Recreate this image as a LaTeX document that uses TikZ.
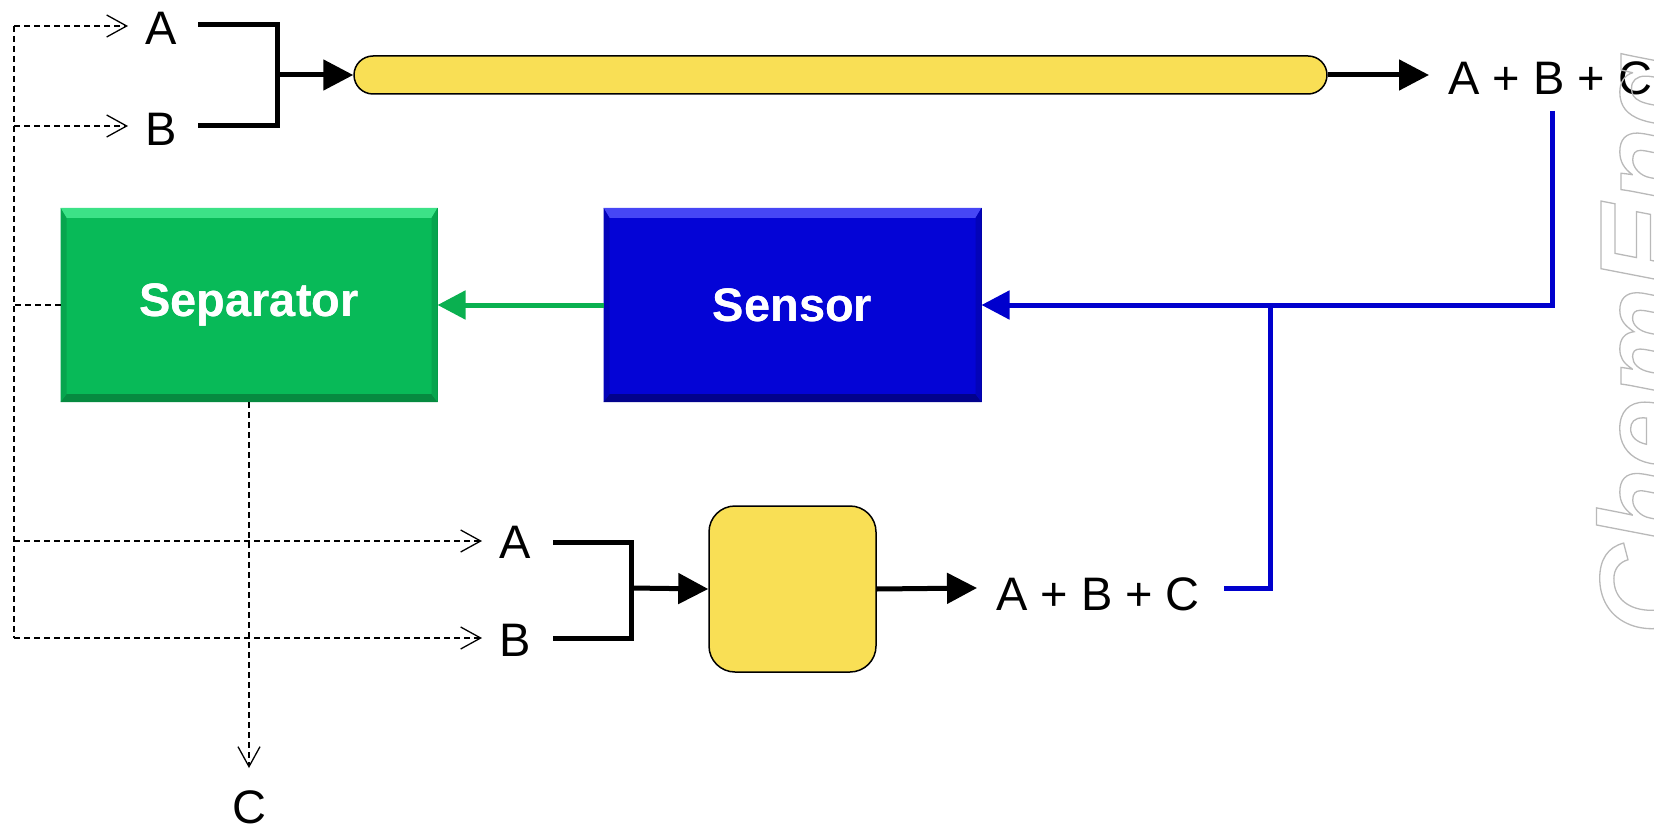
\documentclass[tikz,border=0pt]{standalone}
\usepackage{fontspec}
\setmainfont{Liberation Sans}
\usetikzlibrary{arrows.meta}
\definecolor{yel}{RGB}{249,223,85}
\definecolor{sepgreen}{RGB}{8,186,88}
\definecolor{seplight}{RGB}{60,226,135}
\definecolor{sepdark}{RGB}{6,138,64}
\definecolor{sepside}{RGB}{7,165,78}
\definecolor{senblue}{RGB}{4,4,214}
\definecolor{senlight}{RGB}{70,70,245}
\definecolor{sendark}{RGB}{2,2,140}
\definecolor{senside}{RGB}{3,3,185}
\definecolor{lineblue}{RGB}{0,0,205}
\definecolor{linegreen}{RGB}{10,176,80}
\definecolor{wmgray}{RGB}{185,185,185}
\newcommand\bevelbox[4]{%
  \fill[#2] (#1.north west) -- (#1.north east) -- ([shift={(-6,10)}]#1.north east) -- ([shift={(6,10)}]#1.north west) -- cycle;
  \fill[#3] (#1.south west) -- (#1.south east) -- ([shift={(-6,-8)}]#1.south east) -- ([shift={(6,-8)}]#1.south west) -- cycle;
  \fill[#4] (#1.north west) -- ([shift={(6,10)}]#1.north west) -- ([shift={(6,-8)}]#1.south west) -- (#1.south west) -- cycle;
  \fill[#4] (#1.north east) -- ([shift={(-6,10)}]#1.north east) -- ([shift={(-6,-8)}]#1.south east) -- (#1.south east) -- cycle;
}
\begin{document}
\begin{tikzpicture}[x=1pt,y=-1pt,
  lbl/.style={inner sep=0pt, font=\fontsize{47}{56}\selectfont},
  boxlbl/.style={inner sep=0pt, font=\fontsize{47}{56}\selectfont\bfseries, text=white},
  thickline/.style={line width=5pt},
  thickarrow/.style={line width=5pt,-{Triangle[length=30pt,width=30pt]}},
  blueline/.style={line width=5pt,draw=lineblue},
  bluearrow/.style={blueline,-{Triangle[length=28pt,width=28pt]}},
  greenarrow/.style={line width=5pt,draw=linegreen,-{Triangle[length=28pt,width=28pt,fill=linegreen]}},
  dashline/.style={line width=1.3pt,dash pattern=on 6pt off 4pt},
  dasharrow/.style={dashline,-{Straight Barb[length=20pt,width=22pt,line width=1.3pt]}},
  yelbox/.style={draw, line width=1.5pt, fill=yel, inner sep=0pt},
]
\useasboundingbox (0,0) rectangle (1654,829);

% nodes
\node[lbl] (A1) at (161,28) {A};
\node[lbl] (B1) at (161,129) {B};
\node[yelbox, minimum width=973pt, minimum height=38pt, rounded corners=19pt] (pipe) at (840.5,75) {};
\node[lbl, anchor=west] (ABC1) at (1448,78) {A + B + C};
\node[boxlbl, minimum width=376pt, minimum height=193pt, fill=sepgreen, draw=sepdark, line width=1pt] (sep) at (249,305) {Separator};
\node[boxlbl, minimum width=377pt, minimum height=193pt, fill=senblue, draw=sendark, line width=1pt] (sen) at (792.5,305) {Sensor};
\bevelbox{sep}{seplight}{sepdark}{sepside}
\bevelbox{sen}{senlight}{sendark}{senside}
\node[boxlbl] at (sep) {Separator};
\node[boxlbl] at (sen) {Sensor};
\node[yelbox, minimum width=167pt, minimum height=166pt, rounded corners=26pt] (reac) at (792.5,589) {};
\node[lbl] (A2) at (515,542) {A};
\node[lbl] (B2) at (515,640) {B};
\node[lbl] (ABC2) at (1098,594) {A + B + C};
\node[lbl] (C) at (249,807) {C};

% coordinates
\coordinate (a1s) at (198,25);
\coordinate (b1s) at (198,126);
\coordinate (m1) at (277,75);
\coordinate (t1) at (1429,75);
\coordinate (bl1) at (1552,111);
\coordinate (bj) at (1270,305);
\coordinate (bl2) at (1224,588);
\coordinate (a2s) at (553,542);
\coordinate (b2s) at (553,638);
\coordinate (m2) at (631,588);
\coordinate (t2) at (977,588);
\coordinate (dtop) at (14,26);
\coordinate (dmid) at (14,305);
\coordinate (dA2) at (14,541);
\coordinate (dbot) at (14,638);
\coordinate (inA1) at (128,26);
\coordinate (inB1) at (128,126);
\coordinate (inA2) at (482,541);
\coordinate (inB2) at (482,638);
\coordinate (inC) at (249,768);

% dashed recycle lines
\draw[dashline] (dtop) -- (dbot);
\draw[dasharrow] (dtop) -- (inA1);
\draw[dasharrow] (14,126) -- (inB1);
\draw[dashline] (sep.west) -- (dmid);
\draw[dasharrow] (dA2) -- (inA2);
\draw[dasharrow] (dbot) -- (inB2);
\draw[dasharrow] (sep.south) -- (inC);

% top feed
\draw[thickline] (a1s) -| (m1) |- (b1s);
\draw[thickarrow] (m1) -- (pipe.west);
\draw[thickarrow] (pipe.east) -- (t1);

% bottom feed
\draw[thickline] (a2s) -| (m2) |- (b2s);
\draw[thickarrow] (m2) -- (reac.west);
\draw[thickarrow] (reac.east) -- (t2);

% signal lines
\draw[bluearrow] (bl1) |- (sen.east);
\draw[blueline] (bl2) -| (bj);
\draw[greenarrow] (sen.west) -- (sep.east);

% watermark
\begin{scope}
\clip (0,0) rectangle (1654,829);
\node[rotate=90, anchor=base west, inner sep=0pt, text=wmgray, font=\fontsize{125}{150}\selectfont\bfseries\itshape] (wm) at (1687,635) {\special{pdf:literal direct 1 Tr 1.3 w}ChemEng\special{pdf:literal direct 0 Tr}};
\end{scope}
\end{tikzpicture}
\end{document}
